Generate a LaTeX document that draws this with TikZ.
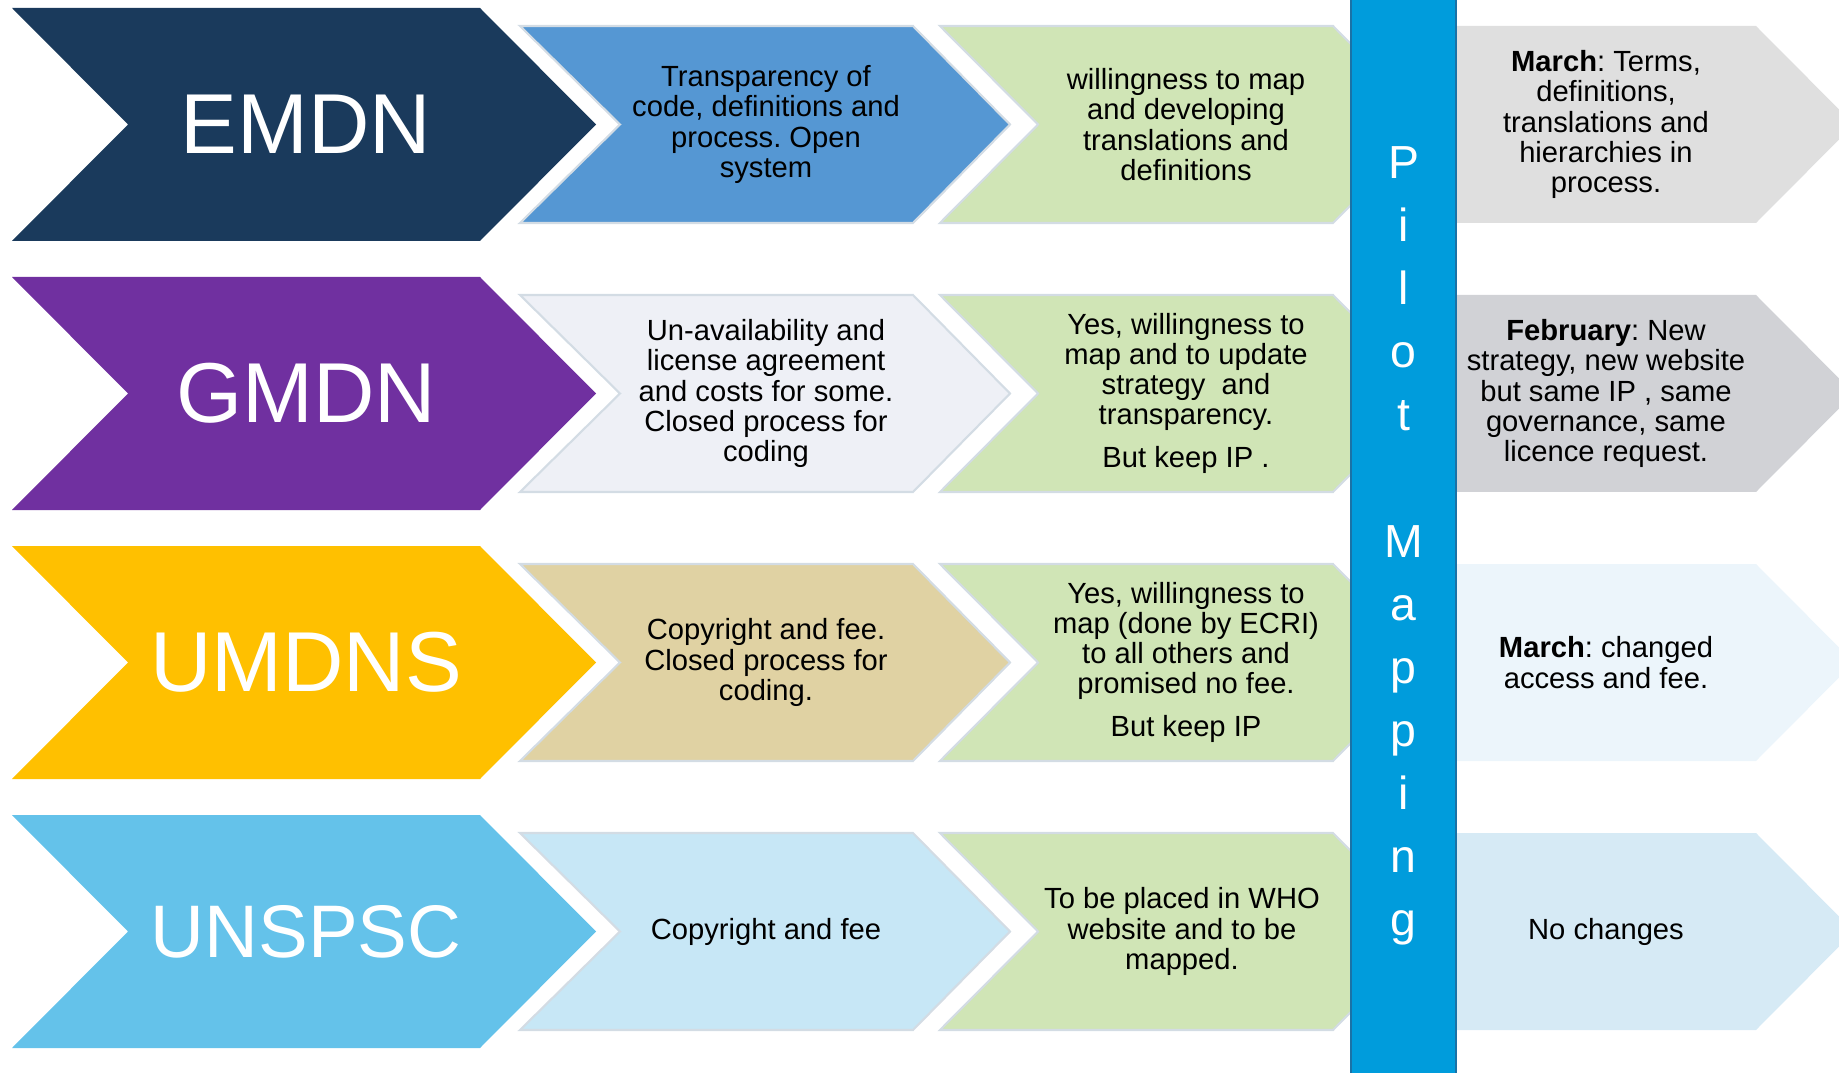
\documentclass[tikz,border=0pt]{standalone}
\usepackage{fontspec}
\setmainfont{Liberation Sans}
\frenchspacing
\definecolor{emdn}{HTML}{1A3A5C}
\definecolor{gmdn}{HTML}{7030A0}
\definecolor{umdns}{HTML}{FFC000}
\definecolor{unspsc}{HTML}{64C2EA}
\definecolor{openblue}{HTML}{5597D3}
\definecolor{closedgray}{HTML}{EEF0F6}
\definecolor{feetan}{HTML}{E0D2A3}
\definecolor{feeblue}{HTML}{C7E7F6}
\definecolor{willgreen}{HTML}{D0E5B6}
\definecolor{nowgrayA}{HTML}{DFDFDF}
\definecolor{nowgrayB}{HTML}{D1D2D6}
\definecolor{nowblueA}{HTML}{ECF5FB}
\definecolor{nowblueB}{HTML}{D6EAF5}
\definecolor{pilotbar}{HTML}{009CDC}
\definecolor{pilotedge}{HTML}{1A72A6}
\definecolor{rim}{HTML}{D3DCE4}
\tikzset{
  code/.style={text=white, inner sep=0pt, font=\fontsize{24.2}{26}\selectfont},
  says/.style={align=center, inner sep=0pt, font=\fontsize{8.3}{8.6}\selectfont},
  letter/.style={text=white, anchor=base, inner sep=0pt, font=\fontsize{13.2}{14}\selectfont}
}
\begin{document}
\begin{tikzpicture}[x=0.1mm, y=-0.1mm]
\useasboundingbox (0,0) rectangle (1839,1073);

\foreach \r/\ca/\cb/\cc in {0/emdn/openblue/nowgrayA, 269/gmdn/closedgray/nowgrayB, 538/umdns/feetan/nowblueA, 807/unspsc/feeblue/nowblueB} {
  \path [fill=\ca] (12, 8+\r) -- (480, 8+\r) -- (596, 124.5+\r) -- (480, 241+\r) -- (12, 241+\r) -- (128, 124.5+\r) -- cycle;
  \path [fill=\cb, draw=rim, line width=.6pt] (520, 26+\r) -- (913, 26+\r) -- (1010, 124.5+\r) -- (913, 223+\r) -- (520, 223+\r) -- (620, 124.5+\r) -- cycle;
  \path [fill=willgreen, draw=rim, line width=.6pt] (940, 26+\r) -- (1333, 26+\r) -- (1431, 124.5+\r) -- (1333, 223+\r) -- (940, 223+\r) -- (1038, 124.5+\r) -- cycle;
  \path [fill=\cc] (1440, 26+\r) -- (1756, 26+\r) -- (1854, 124.5+\r) -- (1756, 223+\r) -- (1440, 223+\r) -- cycle;
}

\node [code] (emdn) at (306, 124.5) {EMDN};
\node [code] (gmdn) at (306, 393.5) {GMDN};
\node [code] (umdns) at (306, 662.5) {UMDNS};
\node [code, font=\fontsize{21.2}{23}\selectfont] (unspsc) at (306, 931.5) {UNSPSC};

\node [says] (emdn-issue) at (766, 124.5) {Transparency of\\code, definitions and\\process. Open\\system};
\node [says] (gmdn-issue) at (766, 393.5) {Un-availability and\\license agreement\\and costs for some.\\Closed process for\\coding};
\node [says] (umdns-issue) at (766, 662.5) {Copyright and fee.\\Closed process for\\coding.};
\node [says] (unspsc-issue) at (766, 931.5) {Copyright and fee};

\node [says] (emdn-will) at (1186, 124.5) {willingness to map\\and developing\\translations and\\definitions};
\node [says] (gmdn-will) at (1186, 393.5) {Yes, willingness to\\map and to update\\strategy~ and\\transparency.\\[3.7pt]But keep IP .};
\node [says] (umdns-will) at (1186, 662.5) {Yes, willingness to\\map (done by ECRI)\\to all others and\\promised no fee.\\[3.7pt]But keep IP};
\node [says] (unspsc-will) at (1182, 931.5) {To be placed in WHO\\website and to be\\mapped.};

\path [fill=pilotbar, draw=pilotedge, line width=.5pt] (1351, -5) rectangle (1456, 1080);
\foreach \i/\ch in {0/P, 1/i, 2/l, 3/o, 4/t, 6/M, 7/a, 8/p, 9/p, 10/i, 11/n, 12/g}
  \node [letter] (pilot\i) at (1403.5, 179+63*\i) {\ch};

\node [says] (emdn-now) at (1606, 124.5) {\textbf{March}: Terms,\\definitions,\\translations and\\hierarchies in\\process.};
\node [says] (gmdn-now) at (1606, 393.5) {\textbf{February}: New\\strategy, new website\\but same IP , same\\governance, same\\licence request.};
\node [says] (umdns-now) at (1606, 662.5) {\textbf{March}: changed\\access and fee.};
\node [says] (unspsc-now) at (1606, 931.5) {No changes};
\end{tikzpicture}
\end{document}
